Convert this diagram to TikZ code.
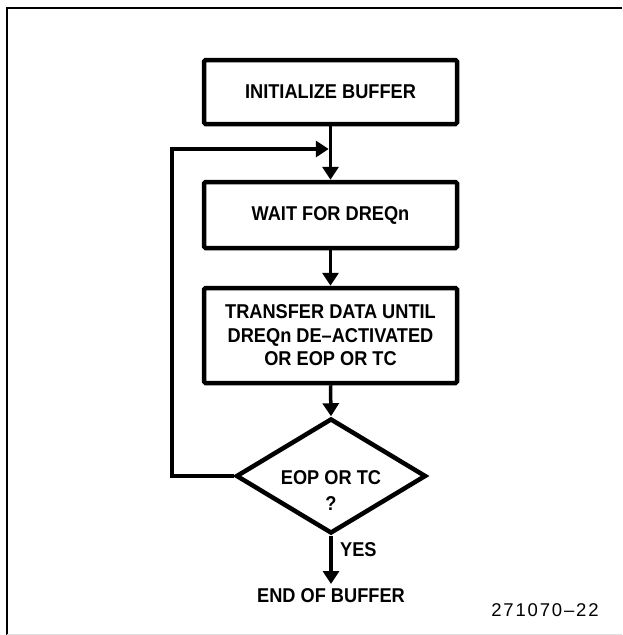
\documentclass[tikz,border=0pt]{standalone}
\usepackage{fontspec}
\setmainfont[FakeStretch=0.91]{Liberation Sans}
\newfontfamily\numfont[LetterSpace=10]{Liberation Sans}
\usetikzlibrary{arrows.meta,shapes.geometric}
\begin{document}
\begin{tikzpicture}[x=1pt,y=-1pt,
  box/.style={draw, line width=4.5pt, rounded corners=1.5pt, minimum width=253pt, inner sep=0pt, font=\bfseries\fontsize{20}{23.5}\selectfont, align=center},
  dec/.style={draw, diamond, line width=4.5pt, minimum width=190pt, minimum height=115pt, inner sep=0pt},
  conn/.style={line width=3.5pt, -{Triangle[length=13pt,width=16pt]}},
  lbl/.style={font=\bfseries\fontsize{20}{26}\selectfont, align=center, inner sep=0pt},
  frame/.style={line width=2pt}
]
\useasboundingbox (0,0) rectangle (622,635);
% frame
\draw[frame] (622,7.5) -- (6.5,7.5) -- (6.5,635);
\draw[line width=1pt, color=black!12] (6.5,634) -- (622,634);

\node[box, minimum height=64pt] (b1) at (330.5,92) {INITIALIZE BUFFER};
\node[box, minimum height=66pt] (b2) at (330.5,215) {WAIT FOR DREQn};
\node[box, minimum height=95pt] (b3) at (330.5,335.5) {TRANSFER DATA UNTIL\\DREQn DE–ACTIVATED\\OR EOP OR TC};
\node[dec] (d) at (331,476) {};
\node[lbl] (dt) at (331,491) {EOP OR TC\\?};
\node[lbl, anchor=north] (end) at (331,588) {END OF BUFFER};
\node[lbl, anchor=west] (yes) at (340,550) {YES};
\node[font=\numfont\fontsize{18.5}{18.5}\selectfont, inner sep=0pt] (fig) at (545,610) {271070–22};
\coordinate (j) at (330.5,149);

\draw[conn] (b1.south) -- (b2.north);
\draw[conn] (b2.south) -- (b3.north);
\draw[conn] (b3.south) -- (d.north);
\draw[conn, shorten >=1.75pt] (d.west) -- ++(-62,0) |- (j);
\draw[conn, shorten >=4pt] (d.south) -- (end.north);
\end{tikzpicture}
\end{document}
